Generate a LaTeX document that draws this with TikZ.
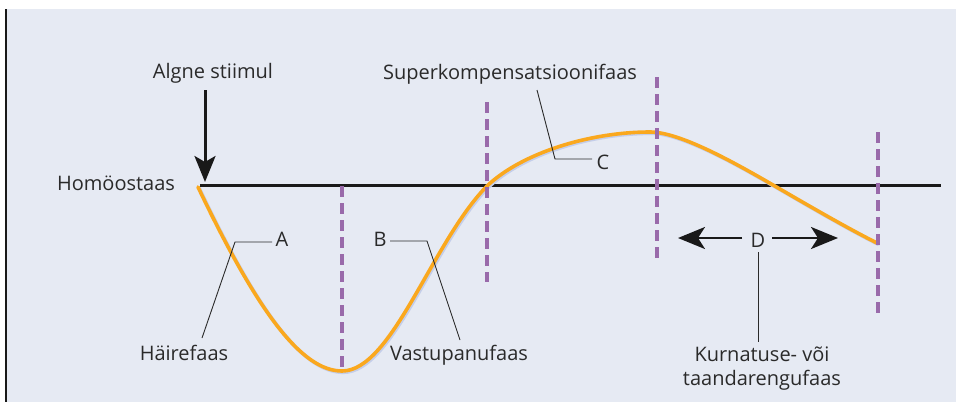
\documentclass[tikz,border=0pt]{standalone}
\usepackage{fontspec}
\setmainfont{Open Sans}
\usetikzlibrary{arrows.meta}
\definecolor{bg}{RGB}{230,234,243}
\definecolor{curveor}{RGB}{250,168,30}
\definecolor{dashpurple}{RGB}{153,106,170}
\definecolor{txt}{RGB}{42,42,42}
\definecolor{shadowblue}{RGB}{196,206,234}
\begin{document}
\begin{tikzpicture}[x=1pt,y=-1pt,
  lbl/.style={font=\fontsize{20}{23}\selectfont, text=txt, inner sep=0pt, anchor=base},
  leader/.style={draw=txt, line width=0.9pt},
  phase/.style={draw=dashpurple, line width=3.3pt, dash pattern=on 11pt off 6pt},
  baseline line/.style={draw=black!90, line width=3pt},
  bigarrow/.style={draw=black!90, line width=3pt, -{Stealth[length=26pt,width=21pt,inset=6pt]}},
  darrow/.style={draw=black!90, line width=2.6pt, -{Stealth[length=27pt,width=22pt,inset=7pt]}},
  curvestyle/.style={draw=curveor, line width=3.6pt, line cap=round, line join=round}]
\useasboundingbox (0,0) rectangle (956,402);
\fill[white] (0,0) rectangle (956,402);
\fill[bg] (6,9) rectangle (956,402);
\draw[black!90, line width=2pt] (6,9) -- (6,402);

% homeostasis line
\coordinate (hs) at (200,185);
\coordinate (he) at (941,185);
\draw[baseline line] (hs) -- (he);

% curve (shadow + curve)
\def\curvepath{(198,187) .. controls (258,313) and (302,371) .. (342,371)
  .. controls (392,371) and (432,242) .. (487,186)
  .. controls (522,152.75) and (590,132) .. (650,132)
  .. controls (680,132) and (735,163) .. (773,185)
  .. controls (808,205.3) and (847,228) .. (877,243)}
\begin{scope}[shift={(1.3,1.3)}]
\draw[curvestyle, draw=shadowblue] \curvepath;
\end{scope}
\draw[curvestyle] \curvepath;

% phase boundaries
\coordinate (p1t) at (342,186); \coordinate (p1b) at (342,372);
\coordinate (p2t) at (487,102); \coordinate (p2b) at (487,282);
\coordinate (p3t) at (657,77);  \coordinate (p3b) at (657,258);
\coordinate (p4t) at (878,132); \coordinate (p4b) at (878,313);
\draw[phase] (p1t) -- (p1b);
\draw[phase] (p2t) -- (p2b);
\draw[phase] (p3t) -- (p3b);
\draw[phase] (p4t) -- (p4b);

% labels
\node[lbl] (stim) at (213,78) {Algne stiimul};
\node[lbl] (homeo) at (116,190) {Homöostaas};
\node[lbl] (super) at (510,79) {Superkompensatsioonifaas};
\node[lbl] (haire) at (184,360) {Häirefaas};
\node[lbl] (vastu) at (459,360) {Vastupanufaas};
\node[lbl] (kurn1) at (762,361) {Kurnatuse- või};
\node[lbl] (kurn2) at (762,385) {taandarengufaas};
\node[lbl] (A) at (282,246) {A};
\node[lbl] (B) at (380,246) {B};
\node[lbl] (C) at (603,169) {C};
\node[lbl] (D) at (758,247) {D};

% stimulus arrow
\coordinate (st) at (205,90);
\coordinate (sb) at (205,182);
\draw[bigarrow] (st) -- (sb);

% leaders
\coordinate (la1) at (202,338); \coordinate (la2) at (235,242); \coordinate (la3) at (272,242);
\draw[leader] (la1) -- (la2) -- (la3);
\coordinate (lb1) at (390,241); \coordinate (lb2) at (427,241); \coordinate (lb3) at (460,340);
\draw[leader] (lb1) -- (lb2) -- (lb3);
\coordinate (lc1) at (537,90); \coordinate (lc2) at (555,159); \coordinate (lc3) at (592,159);
\draw[leader] (lc1) -- (lc2) -- (lc3);
\coordinate (ld1) at (758,252); \coordinate (ld2) at (758,342);
\draw[leader] (ld1) -- (ld2);

% D arrows
\coordinate (dl0) at (742,238); \coordinate (dl1) at (678,238);
\coordinate (dr0) at (772,238); \coordinate (dr1) at (838,238);
\draw[darrow] (dl0) -- (dl1);
\draw[darrow] (dr0) -- (dr1);
\end{tikzpicture}
\end{document}
